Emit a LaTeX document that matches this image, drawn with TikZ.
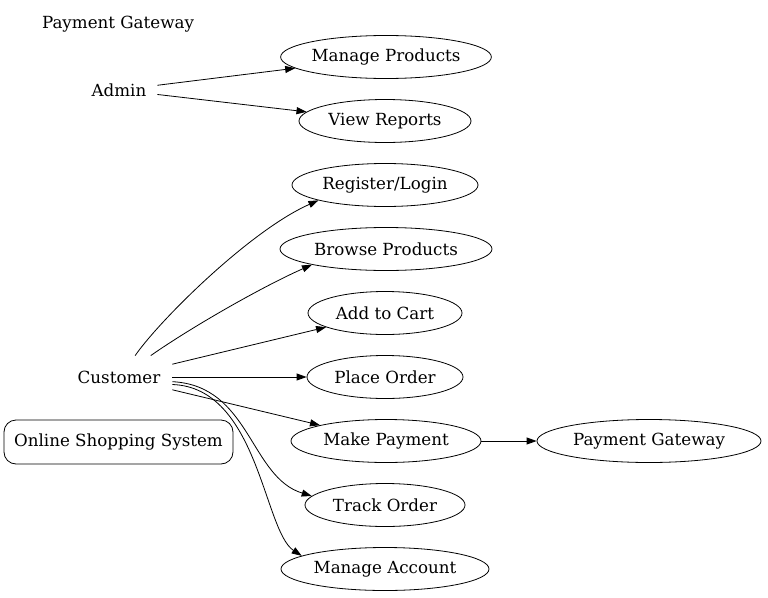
\documentclass[tikz,border=0pt]{standalone}
\usepackage{fontspec}
\setmainfont{DejaVu Serif}
\usetikzlibrary{shapes.geometric,arrows.meta}

\begin{document}
\begin{tikzpicture}[x=1pt,y=1pt,>={Triangle[length=10pt,width=7pt]},line width=0.8pt,
  every node/.style={font=\fontsize{16.7}{19}\selectfont},
  usecase/.style={draw,ellipse,inner sep=0pt,minimum height=43pt},
  actor/.style={inner sep=0pt,minimum height=42pt}]
  \useasboundingbox (0,0) rectangle (768,-597);
  % actors and the system box
  \node (title) at (118,-24) {Payment Gateway};
  \node[actor,minimum width=76pt] (admin) at (119,-90) {Admin};
  \node[actor,minimum width=106pt] (cust) at (119,-377) {Customer};
  \node[draw,rounded corners=12pt,minimum width=229pt,minimum height=44pt] (sys) at (118.5,-442) {Online Shopping System};
  % use cases
  \node[usecase,minimum width=204pt] (manprod) at (386,-57) {Manage Products};
  \node[usecase,minimum width=172pt] (reports) at (385,-121) {View Reports};
  \node[usecase,minimum width=186pt] (login) at (385,-185) {Register/Login};
  \node[usecase,minimum width=212pt] (browse) at (386,-249) {Browse Products};
  \node[usecase,minimum width=154pt] (cart) at (385,-313) {Add to Cart};
  \node[usecase,minimum width=156pt] (order) at (385,-377) {Place Order};
  \node[usecase,minimum width=190pt] (pay) at (386,-441) {Make Payment};
  \node[usecase,minimum width=160pt] (track) at (385,-505) {Track Order};
  \node[usecase,minimum width=208pt] (account) at (385,-569) {Manage Account};
  \node[usecase,minimum width=224pt] (gateway) at (649,-441) {Payment Gateway};
  % connectors
  \draw[->] (admin) -- (manprod);
  \draw[->] (admin) -- (reports);
  \draw[->] (cust.53) .. controls +(25,36) and +(-68,-30) .. (login.193);
  \draw[->] (cust.34) .. controls +(40,28) and +(-50,-22) .. (browse.192);
  \draw[->] (cust) -- (cart);
  \draw[->] (cust) -- (order);
  \draw[->] (cust) -- (pay);
  \draw[->] (cust.-5) .. controls +(78,-4) and +(-62,19) .. (track.173);
  \draw[->] (cust.-8) .. controls +(86,-3) and +(-38,25) .. (account.171);
  \draw[->] (pay) -- (gateway);
\end{tikzpicture}
\end{document}
